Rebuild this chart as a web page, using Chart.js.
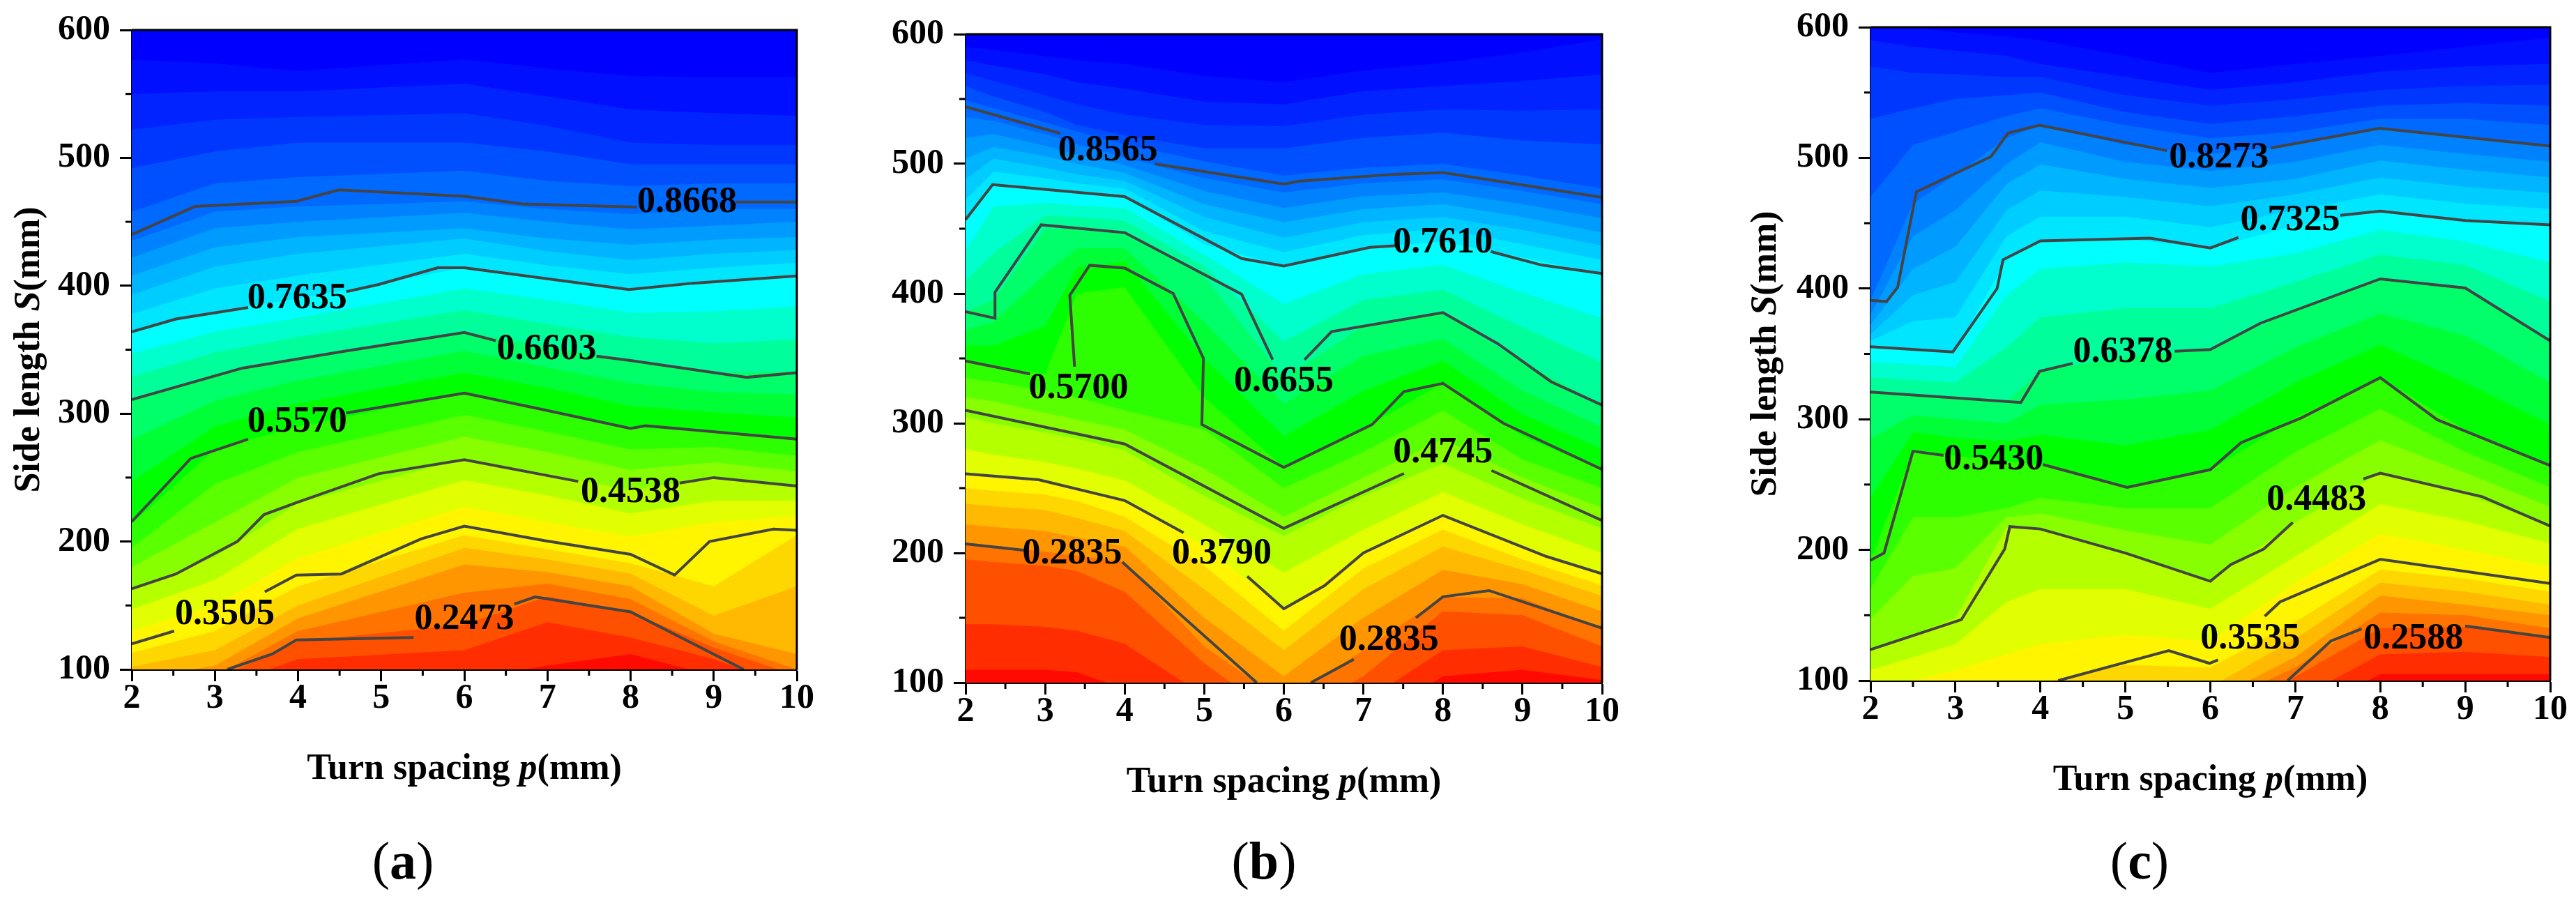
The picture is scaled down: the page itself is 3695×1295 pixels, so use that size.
<!DOCTYPE html>
<html>
<head>
<meta charset="utf-8">
<style>
  html, body { margin: 0; background: #fff; }
  #wrap { position: relative; width: 3695px; height: 1295px; overflow: hidden; }
  canvas { position: absolute; top: 0; }
</style>
</head>
<body>
<div id="wrap">
  <canvas id="panelA" width="1230" height="1295" style="left:0"></canvas>
  <canvas id="panelB" width="1230" height="1295" style="left:1230px"></canvas>
  <canvas id="panelC" width="1235" height="1295" style="left:2460px"></canvas>
</div>
<script src="https://cdn.jsdelivr.net/npm/chart.js@4/dist/chart.umd.min.js"></script>
<script>
// --- axes ---
const xTicks = [2, 3, 4, 5, 6, 7, 8, 9, 10];
const yTicks = [100, 200, 300, 400, 500, 600];

// --- colour of each band, from the top of the plot to the bottom ---
const topColor = 'rgb(0,0,255)';
const bandColors = [
  'rgb(0,15,255)', 'rgb(0,35,255)', 'rgb(0,55,255)', 'rgb(0,80,255)', 'rgb(0,105,255)',
  'rgb(0,130,255)', 'rgb(0,155,255)', 'rgb(0,180,255)', 'rgb(0,205,255)', 'rgb(0,230,255)',
  'rgb(0,255,255)', 'rgb(0,255,205)', 'rgb(0,255,155)', 'rgb(0,255,105)', 'rgb(0,255,55)',
  'rgb(0,255,0)', 'rgb(45,255,0)', 'rgb(90,255,0)', 'rgb(135,255,0)', 'rgb(180,255,0)',
  'rgb(225,255,0)', 'rgb(255,245,0)', 'rgb(255,215,0)', 'rgb(255,185,0)', 'rgb(255,150,0)',
  'rgb(255,115,0)', 'rgb(255,80,0)', 'rgb(255,45,0)', 'rgb(255,10,0)'
];

// --- panel (a) ---
const pColsA = [2, 3, 4, 6, 7, 8, 9, 10];
const bandsA = [
  [577, 574, 568, 577, 570, 564, 563, 563],
  [550, 552, 552, 558, 548, 538, 535, 533],
  [522, 530, 532, 535, 525, 512, 510, 510],
  [492, 505, 512, 512, 505, 495, 495, 495],
  [458, 480, 485, 490, 482, 478, 480, 480],
  [435, 458, 462, 466, 460, 456, 460, 460],
  [422, 445, 450, 457, 450, 444, 447, 450],
  [408, 430, 438, 445, 437, 432, 436, 438],
  [393, 415, 425, 437, 427, 420, 425, 428],
  [378, 398, 408, 425, 416, 409, 414, 418],
  [364, 380, 390, 414, 406, 398, 403, 409],
  [347, 364, 375, 398, 389, 379, 380, 384],
  [329, 348, 360, 381, 370, 360, 355, 358],
  [311, 331, 344, 364, 352, 342, 332, 333],
  [280, 310, 326, 349, 336, 324, 317, 315],
  [247, 290, 308, 332, 320, 306, 301, 297],
  [214, 272, 290, 316, 303, 289, 286, 279],
  [195, 245, 270, 299, 286, 272, 274, 267],
  [180, 215, 250, 282, 270, 256, 262, 255],
  [163, 188, 230, 265, 253, 240, 250, 244],
  [147, 170, 210, 248, 236, 222, 232, 232],
  [130, 150, 187, 227, 215, 204, 215, 220],
  [113, 130, 165, 205, 194, 183, 165, 205],
  [102, 115, 150, 195, 186, 175, 142, 165],
  [92, 103, 140, 182, 176, 165, 128, 112],
  [90, 95, 130, 160, 167, 155, 122, 100],
  [88, 92, 122, 135, 157, 145, 117, 95],
  [80, 85, 108, 115, 137, 125, 108, 85],
  [70, 75, 85, 92, 103, 112, 95, 80]
];
const contoursA = [
  [[2,440],[2.76,462],[3.98,466],[4.49,475],[6,470],[6.7,464],[8.08,461.5],[8.7,null],[9.27,465.5],[10,465.5]],
  [[2,364],[2.53,374],[3.4,383],[4,null],[4.58,395.4],[4.97,401],[5.68,414],[6,414],[7.98,397],[8.75,402],[10,407.6]],
  [[2,311],[3.33,335.6],[4.58,349],[6,363.5],[6.38,357],[7,null],[7.59,345],[8,341.5],[9.4,328.4],[10,332]],
  [[2,215.5],[2.71,265],[3.4,280],[4,null],[4.58,300.5],[6,316],[6.96,303],[8,288.4],[8.18,290.6],[10,280]],
  [[2,163],[2.53,174.6],[3.27,200],[3.59,221],[3.98,230.4],[4.97,253],[6,264],[7.37,247],[8,null],[8.59,245.7],[9,250],[10,243.4]],
  [[2,120],[2.51,130],[3,null],[3.6,160.7],[3.98,173.8],[4.52,174.6],[5.48,202],[6,212],[6.96,200.7],[8,190],[8.53,173.8],[8.95,200],[9.72,209.7],[10,208.8]],
  [[3.15,100],[3.69,112],[3.98,123],[5.39,125],[6,null],[6.6,151],[6.85,156.7],[8,145],[9.36,100]]
];
const labelTextA = ['0.8668', '0.7635', '0.6603', '0.5570', '0.4538', '0.3505', '0.2473'];
const labelPosA = [[8.68,465], [3.99,390], [6.99,350], [3.99,293], [8,238], [3.12,143], [6,139]];

// --- panel (b) ---
const pColsB = [2, 2.35, 3, 3.4, 4, 5, 6, 7, 8, 9, 10];
const bandsB = [
  [590, 588, 583, 580, 577, 568, 563, 572, 578, 586, 596],
  [580, 576, 569, 563, 558, 548, 546, 556, 560, 564, 569],
  [570, 564, 553, 546, 538, 530, 529, 538, 542, 541, 542],
  [560, 552, 540, 530, 522, 512, 512, 520, 524, 518, 515],
  [549, 543, 532, 525, 515, 502, 491, 497, 500, 491, 481],
  [536, 533, 523, 515, 505, 489, 478, 485, 488, 479, 469],
  [520, 523, 514, 507, 499, 479, 466, 475, 478, 469, 458],
  [504, 513, 506, 500, 493, 469, 455, 465, 469, 459, 447],
  [488, 504, 497, 492, 487, 459, 443, 455, 459, 449, 437],
  [472, 494, 489, 485, 481, 448, 432, 445, 450, 438, 426],
  [457, 484, 480, 478, 475, 438, 421, 435, 440, 428, 415],
  [433, 467, 470, 468, 466, 430, 392, 415, 422, 401, 381],
  [410, 431, 460, 459, 456, 421, 363, 395, 403, 374, 347],
  [386, 395, 450, 450, 447, 413, 335, 375, 385, 347, 314],
  [372, 378, 415, 435, 435, 378, 315, 352, 365, 325, 297],
  [360, 360, 375, 420, 425, 350, 290, 325, 348, 307, 280],
  [348, 344, 338, 400, 405, 320, 266, 296, 331, 290, 264],
  [335, 332, 325, 320, 310, 295, 250, 278, 310, 272, 250],
  [320, 317, 308, 303, 295, 265, 228, 258, 288, 258, 235],
  [305, 300, 293, 288, 279, 244, 213, 244, 269, 242, 219],
  [280, 276, 270, 265, 256, 222, 185, 218, 247, 222, 200],
  [261, 258, 256, 251, 240, 205, 157, 200, 229, 205, 184],
  [250, 248, 245, 240, 228, 190, 140, 188, 218, 195, 175],
  [238, 236, 233, 227, 217, 172, 125, 172, 205, 187, 167],
  [222, 220, 217, 212, 205, 150, 105, 150, 187, 176, 155],
  [207, 205, 201, 198, 193, 128, 85, 125, 166, 165, 142],
  [195, 193, 190, 186, 170, 115, 70, 105, 155, 152, 128],
  [145, 145, 143, 140, 130, 90, 60, 85, 125, 128, 112],
  [110, 110, 110, 108, 95, 70, 50, 65, 105, 110, 102]
];
const contoursB = [
  [[2,544],[3.19,523.5],[3.8,null],[4.38,500],[6,484.4],[6.2,486.7],[7.4,492],[8,493.3],[10,474.2]],
  [[2,457],[2.34,484],[4,474.7],[5.47,427],[6,421.3],[7.08,435.6],[7.42,437],[8,null],[8.6,432.4],[9.24,422],[10,415.5]],
  [[2,386],[2.37,381],[2.37,401],[2.95,453],[4,447],[5.47,399.5],[5.86,349],[6,null],[6.26,349],[6.6,370.7],[8,385.3],[8.69,361.3],[9.36,332],[10,314]],
  [[2,348],[2.81,338],[3.1,null],[3.37,343.6],[3.31,398.7],[3.56,421.8],[4,419.6],[4.61,400],[4.99,350],[4.97,299],[6,266],[7.11,299],[7.51,324.4],[8,330.7],[8.76,300],[10,264.4]],
  [[2,310],[4,284],[6,219],[7.51,261.3],[8,null],[8.61,263.6],[10,225]],
  [[2,261],[2.92,256.4],[4,240.4],[4.74,215.6],[5.2,null],[5.54,182],[6,157],[6.51,174.7],[7,200],[8,229],[9.3,197.3],[10,184]],
  [[2,207],[2.75,202],[3.3,null],[3.97,193],[4.6,158],[5.66,100]],
  [[6.34,100],[6.88,118],[7.3,null],[7.66,150],[8,166.2],[8.58,171],[10,142]]
];
const labelTextB = ['0.8565', '0.7610', '0.6655', '0.5700', '0.4745', '0.3790', '0.2835', '0.2835'];
const labelPosB = [[3.79,510], [8,438.7], [6,332], [3.42,326.7], [8,277], [5.22,199], [3.34,199], [7.32,132.4]];

// --- panel (c) ---
const pColsC = [2, 2.5, 3, 3.6, 4, 5, 6, 7, 8, 9, 10];
const bandsC = [
  [605, 600, 596, 593, 590, 578, 565, 572, 578, 585, 592],
  [590, 585, 582, 578, 572, 562, 552, 558, 566, 570, 572],
  [570, 565, 564, 562, 562, 548, 540, 545, 552, 555, 556],
  [530, 538, 545, 548, 550, 535, 526, 532, 540, 542, 540],
  [470, 510, 520, 532, 538, 525, 515, 520, 530, 530, 525],
  [391, 465, 487, 515, 525, 510, 503, 510, 522, 515, 509],
  [380, 440, 460, 495, 512, 497, 490, 497, 510, 503, 497],
  [372, 415, 432, 480, 495, 484, 477, 484, 498, 491, 485],
  [365, 395, 405, 460, 475, 470, 463, 472, 485, 478, 473],
  [360, 375, 378, 440, 455, 455, 447, 460, 472, 465, 461],
  [355, 353, 352, 422, 436, 438, 431, 448, 459, 452, 449],
  [344, 342, 340, 395, 415, 420, 417, 427, 445, 436, 420],
  [332, 330, 328, 355, 378, 385, 385, 405, 426, 418, 390],
  [321, 318, 316, 313, 337, 348, 353, 385, 407, 400, 360],
  [285, 303, 300, 297, 311, 315, 322, 355, 381, 364, 328],
  [240, 290, 286, 283, 288, 280, 292, 328, 357, 328, 296],
  [192, 275, 272, 268, 265, 248, 261, 301, 332, 292, 264],
  [170, 225, 225, 232, 240, 232, 232, 275, 308, 275, 248],
  [147, 180, 186, 225, 228, 215, 204, 248, 284, 259, 233],
  [124, 135, 148, 217, 216, 198, 176, 221, 259, 243, 218],
  [108, 118, 128, 160, 170, 170, 155, 195, 235, 222, 205],
  [92, 100, 108, 120, 128, 135, 130, 175, 212, 200, 187],
  [80, 85, 90, 95, 98, 112, 110, 145, 185, 178, 168],
  [70, 75, 80, 85, 85, 95, 95, 132, 175, 168, 158],
  [60, 65, 70, 75, 75, 85, 85, 118, 165, 158, 150],
  [55, 55, 60, 65, 65, 70, 80, 110, 152, 150, 140],
  [50, 50, 50, 50, 50, 60, 70, 103, 140, 141, 133],
  [45, 45, 45, 45, 45, 55, 60, 85, 120, 122, 118],
  [40, 40, 40, 40, 40, 50, 50, 70, 105, 105, 105]
];
const contoursC = [
  [[2,391],[2.19,390],[2.32,401],[2.54,474],[3.42,501],[3.62,519],[3.99,525],[5.49,505.5],[6,null],[6.71,507.6],[7.99,522.6],[10,509]],
  [[2,355.5],[2.97,351.5],[3.49,400],[3.56,422],[4,436.4],[5.29,438.6],[6,431],[6.33,439],[7,null],[7.53,456],[8,459.3],[9,452],[10,448.7]],
  [[2,320.8],[3.77,312.8],[3.99,336.6],[4.38,342.7],[5,null],[5.58,352],[6,353.3],[6.59,373.5],[8,407.4],[9,400.4],[10,360]],
  [[2,192],[2.16,197.6],[2.5,275.5],[2.86,272.4],[3.4,null],[4.03,265.3],[5.02,247.8],[6,261.4],[6.36,282],[7.07,301],[8,331.8],[8.67,299.6],[10,264.5]],
  [[2,123.7],[3.07,146.6],[3.58,200.7],[3.64,217.8],[4,216],[5,197.6],[6,176],[6.24,188.8],[6.63,200.7],[6.97,221],[7.4,null],[7.8,254.3],[8,258.7],[9.2,240.7],[10,218.3]],
  [[4.21,100],[5.51,122.9],[5.99,113.2],[6.09,115.8],[6.4,null],[6.64,149.2],[6.82,160.2],[8,192.8],[10,174.3]],
  [[6.91,100],[7.42,130.3],[7.78,139.6],[8.4,null],[9,141.8],[10,133]]
];
const labelTextC = ['0.8273', '0.7325', '0.6378', '0.5430', '0.4483', '0.3535', '0.2588'];
const labelPosC = [[6.1,499.7], [6.94,452], [4.97,351], [3.45,269], [7.25,238], [6.47,131.7], [8.39,131.7]];

const SERIF = '"Liberation Serif", "Times New Roman", serif';
const TICK_FONT = { family: SERIF, size: 50, weight: 'bold', lineHeight: 1 };

// texte avec parties en italique
function drawRich(ctx, parts, cx, cy, rotate) {
  ctx.save();
  ctx.translate(cx, cy);
  if (rotate) ctx.rotate(-Math.PI / 2);
  ctx.textAlign = 'left';
  ctx.textBaseline = 'middle';
  ctx.fillStyle = '#000';
  let total = 0;
  parts.forEach(p => { ctx.font = p.font; total += ctx.measureText(p.text).width; });
  let x = -total / 2;
  parts.forEach(p => {
    ctx.font = p.font;
    ctx.fillText(p.text, x, 0);
    x += ctx.measureText(p.text).width;
  });
  ctx.restore();
}

function makePanel(cfg) {
  const bandSets = cfg.bands.map((row, i) => ({
    data: row.map((s, j) => ({ x: cfg.pCols[j], y: s })),
    backgroundColor: bandColors[i],
    borderWidth: 0,
    pointRadius: 0,
    tension: 0,
    fill: 'start',
    order: 1000 - i
  }));
  const lineSets = cfg.contours.map(pts => ({
    data: pts.map(([x, y]) => ({ x, y })),
    borderColor: '#444',
    borderWidth: 4,
    pointRadius: 0,
    tension: 0,
    fill: false,
    order: 0
  }));

  const panelPlugin = {
    id: 'panelExtras',
    beforeDatasetsDraw(chart) {
      const { ctx, chartArea: a } = chart;
      ctx.save();
      ctx.fillStyle = topColor;
      ctx.fillRect(a.left, a.top, a.right - a.left, a.bottom - a.top);
      ctx.restore();
    },
    afterDraw(chart) {
      const { ctx, chartArea: a, scales: { x, y } } = chart;
      ctx.save();
      ctx.strokeStyle = '#000';
      ctx.lineWidth = 3;
      ctx.beginPath();
      ctx.moveTo(a.left, a.top); ctx.lineTo(a.right, a.top); ctx.lineTo(a.right, a.bottom);
      ctx.stroke();
      // petits traits intermédiaires
      xTicks.slice(0, -1).forEach(t => {
        const px = x.getPixelForValue(t + 0.5);
        ctx.beginPath(); ctx.moveTo(px, a.bottom); ctx.lineTo(px, a.bottom + 9); ctx.stroke();
      });
      yTicks.slice(0, -1).forEach(t => {
        const py = y.getPixelForValue(t + 50);
        ctx.beginPath(); ctx.moveTo(a.left, py); ctx.lineTo(a.left - 9, py); ctx.stroke();
      });
      // étiquettes des isolignes
      ctx.fillStyle = '#000';
      ctx.font = 'bold 52px ' + SERIF;
      ctx.textAlign = 'center';
      ctx.textBaseline = 'middle';
      cfg.labelText.forEach((t, i) => {
        ctx.fillText(t, x.getPixelForValue(cfg.labelPos[i][0]), y.getPixelForValue(cfg.labelPos[i][1]));
      });
      ctx.restore();
      const bold = 'bold 52px ' + SERIF, ital = 'italic bold 52px ' + SERIF;
      drawRich(ctx, [
        { text: 'Turn spacing ', font: bold }, { text: 'p', font: ital }, { text: '(mm)', font: bold }
      ], (a.left + a.right) / 2, a.bottom + 144);
      if (cfg.yTitle) {
        drawRich(ctx, [
          { text: 'Side length ', font: bold }, { text: 'S', font: ital }, { text: '(mm)', font: bold }
        ], a.left - cfg.yTitleGap, (a.top + a.bottom) / 2, true);
      }
      drawRich(ctx, [
        { text: '(', font: '76px ' + SERIF }, { text: cfg.caption, font: 'bold 76px ' + SERIF }, { text: ')', font: '76px ' + SERIF }
      ], cfg.captionX, 1240);
    }
  };

  const canvas = document.getElementById(cfg.id);
  new Chart(canvas, {
    type: 'line',
    data: { datasets: lineSets.concat(bandSets) },
    options: {
      responsive: false,
      animation: false,
      events: [],
      layout: { padding: {
        left: cfg.left - 125,
        right: canvas.width - cfg.right,
        top: cfg.top,
        bottom: canvas.height - cfg.bottom - 80
      } },
      plugins: { legend: { display: false }, tooltip: { enabled: false } },
      scales: {
        x: {
          type: 'linear', min: xTicks[0], max: xTicks[xTicks.length - 1],
          afterFit: s => { s.height = 80; },
          afterBuildTicks: s => { s.ticks = xTicks.map(v => ({ value: v })); },
          border: { color: '#000', width: 3 },
          grid: { drawOnChartArea: false, tickLength: 17, tickWidth: 3, tickColor: '#000' },
          ticks: { color: '#000', font: TICK_FONT, padding: 0, maxRotation: 0, autoSkip: false }
        },
        y: {
          type: 'linear', min: yTicks[0], max: yTicks[yTicks.length - 1],
          afterFit: s => { s.width = 125; },
          afterBuildTicks: s => { s.ticks = yTicks.map(v => ({ value: v })); },
          border: { color: '#000', width: 3 },
          grid: { drawOnChartArea: false, tickLength: 17, tickWidth: 3, tickColor: '#000' },
          ticks: { color: '#000', font: TICK_FONT, padding: 14, autoSkip: false }
        }
      }
    },
    plugins: [panelPlugin]
  });
}

makePanel({ id: 'panelA', left: 189, right: 1143, top: 43, bottom: 960, pCols: pColsA, bands: bandsA, contours: contoursA,
  labelText: labelTextA, labelPos: labelPosA, yTitle: true, yTitleGap: 146, caption: 'a', captionX: 578 });
makePanel({ id: 'panelB', left: 155, right: 1068, top: 49, bottom: 979, pCols: pColsB, bands: bandsB, contours: contoursB,
  labelText: labelTextB, labelPos: labelPosB, yTitle: false, caption: 'b', captionX: 583 });
makePanel({ id: 'panelC', left: 223, right: 1198, top: 37, bottom: 976, pCols: pColsC, bands: bandsC, contours: contoursC,
  labelText: labelTextC, labelPos: labelPosC, yTitle: true, yTitleGap: 149, caption: 'c', captionX: 609 });
</script>
</body>
</html>
